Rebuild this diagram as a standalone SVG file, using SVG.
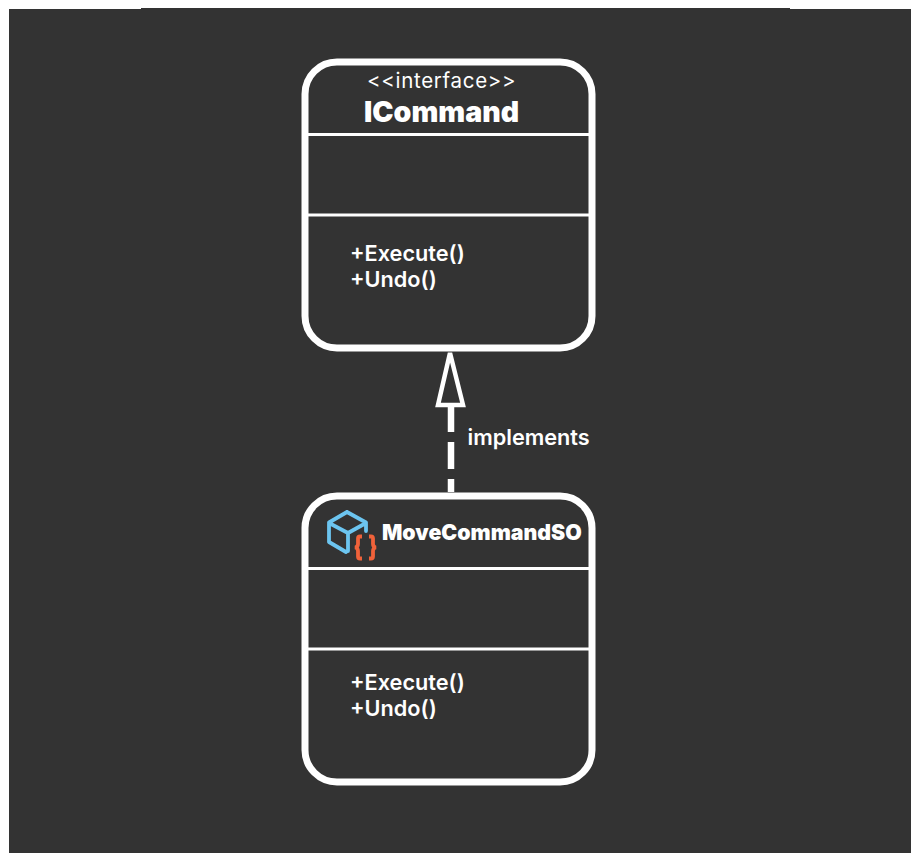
<svg xmlns="http://www.w3.org/2000/svg" width="911" height="853" viewBox="0 0 911 853">
<style>
text{font-family:Inter,"Liberation Sans",sans-serif;fill:#fff}
.box{fill:#333;stroke:#fff;stroke-width:7}
.div{stroke:#fff;stroke-width:3;fill:none}
.m{font-size:21.700px;font-weight:600}
</style>
<rect width="911" height="853" fill="#fff"/>
<rect x="9" y="9" width="902" height="844" fill="#333"/>
<rect x="141" y="8" width="649" height="2" fill="#333"/>
<g id="connectors">
<path d="M451 405V492" fill="none" stroke="#fff" stroke-width="6.500" stroke-dasharray="27 10"/>
<path d="M450 353L438 405H463Z" fill="#333" stroke="#fff" stroke-width="4.500"/>
<text x="467.500" y="444.500" font-size="21.700" font-weight="600">implements</text>
</g>
<g id="ICommand">
<rect class="box" x="305" y="62" width="287" height="286" rx="32"/>
<path class="div" d="M307 134.500H590M307 215H590"/>
<text x="367" y="88" font-size="20.500" letter-spacing="0.700">&lt;&lt;interface&gt;&gt;</text>
<text x="364" y="121.500" font-size="28.500" font-weight="900">ICommand</text>
<text class="m" x="350" y="260.500">+Execute()</text>
<text class="m" x="350" y="286.500">+Undo()</text>
</g>
<g id="MoveCommandSO">
<rect class="box" x="305" y="496" width="287" height="286" rx="32"/>
<path class="div" d="M307 568.500H590M307 649H590"/>
<path d="M347 512L329 522.500V542L346 552M347 512L366 522.500V531M329 523L348 533V551M348 533L366 523" fill="none" stroke="#6cc5f0" stroke-width="3.800" stroke-linejoin="round" stroke-linecap="round"/>
<text x="382" y="539.500" font-size="21.300" font-weight="900">MoveCommandSO</text>
<path d="M362 536.500H360Q358 536.500 358 538.500V544Q358 547 355 547.500Q358 548 358 551V556.500Q358 558.500 360 558.500H362M369 536.500H371Q373 536.500 373 538.500V544Q373 547 376 547.500Q373 548 373 551V556.500Q373 558.500 371 558.500H369" fill="none" stroke="#f0623a" stroke-width="3.800"/>
<text class="m" x="350" y="689.500">+Execute()</text>
<text class="m" x="350" y="715.500">+Undo()</text>
</g>
</svg>
